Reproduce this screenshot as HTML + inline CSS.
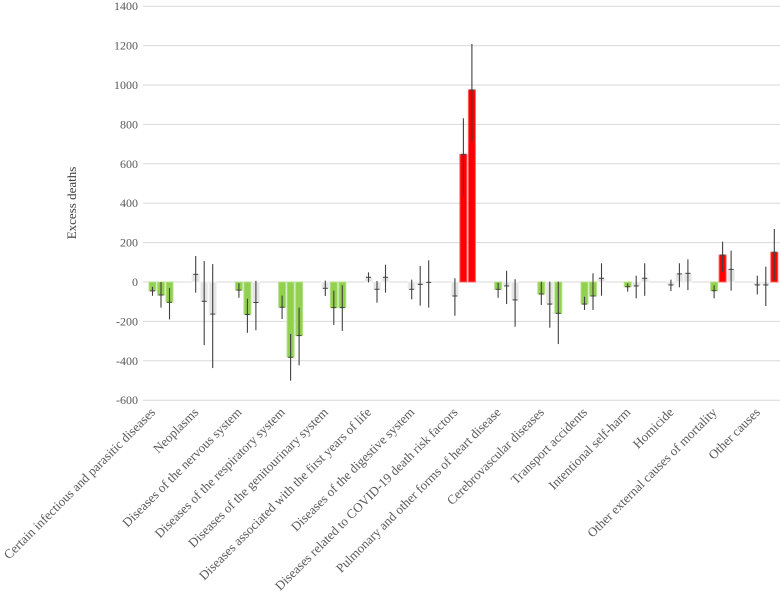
<!DOCTYPE html>
<html><head><meta charset="utf-8"><style>
html,body{margin:0;padding:0;background:#fff;}
svg, svg text{font-family:"Liberation Serif","Times New Roman",Times,serif;}
svg{display:block;}
</style></head><body>
<svg id="chart" width="780" height="600" viewBox="0 0 780 600"></svg>
<script>
const categories=["Certain infectious and parasitic diseases","Neoplasms","Diseases of the nervous system","Diseases of the respiratory system","Diseases of the genitourinary system","Diseases associated with the first years of life","Diseases of the digestive system","Diseases related to COVID-19 death risk factors","Pulmonary and other forms of heart disease","Cerebrovascular diseases","Transport accidents","Intentional self-harm","Homicide","Other external causes of mortality","Other causes"];
const values1=[-45,39,-41,-128,-32,24,-37,-71,-37,-61,-112,-24,-15,-44,-15];
const low1=[-70,-54,-80,-188,-71,-2,-88,-171,-80,-117,-142,-49,-46,-83,-63];
const high1=[-25,132,-6,-69,7,49,12,19,-3,2,-75,-7,12,-17,32];
const status1=["g","n","g","g","n","n","n","n","g","g","g","g","n","g","n"];
const values2=[-66,-98,-165,-382,-130,-37,-12,648,-20,-112,-71,-20,41,137,-15];
const low2=[-130,-320,-258,-501,-218,-105,-120,438,-112,-232,-142,-83,-27,52,-122];
const high2=[0,106,-85,-264,-44,5,81,831,57,2,44,32,95,205,78];
const status2=["g","n","g","g","g","n","n","r","n","n","g","n","n","r","n"];
const values3=[-103,-163,-104,-272,-130,24,-2,975,-91,-159,19,19,44,64,151];
const low3=[-190,-437,-245,-423,-248,-54,-130,712,-227,-315,-70,-70,-41,-44,7];
const high3=[-30,91,6,-130,-16,88,110,1208,14,2,95,95,115,159,269];
const status3=["g","n","n","g","g","n","n","r","n","g","n","n","n","n","r"];
const yTicks=[-600,-400,-200,0,200,400,600,800,1000,1200,1400];

const NS="http://www.w3.org/2000/svg";
const svg=document.getElementById('chart');
const FF='"Liberation Serif", "Times New Roman", serif';
function mk(t,a,p){const e=document.createElementNS(NS,t);for(const k in a)e.setAttribute(k,a[k]);(p||svg).appendChild(e);return e;}
const y=v=>282-v*0.197;
const x=i=>161+i*43.2;
const colors={g:"#92d050",n:"#e4e4e4",r:"#ff0000"};
const halo={g:"#b5e08a",n:"#f0f0f0",r:"#ff6060"};

const grid=mk('g',{});


yTicks.forEach(t=>{
  const l=mk('line',{x1:143,x2:780,y1:y(t),y2:y(t),stroke:"#d9d9d9","stroke-width":1},grid);
  
  
  const tx=mk('text',{x:138,y:y(t)+4,"text-anchor":"end","font-size":"12","font-family":FF,fill:"#595959"},grid);
  tx.textContent=t;
  
  
});
const yt=mk('text',{x:0,y:0,transform:"translate(76,203) rotate(-90)","text-anchor":"middle","font-size":"13","font-family":FF,fill:"#404040"});
yt.textContent="Excess deaths";



const series=[[values1,low1,high1,status1],[values2,low2,high2,status2],[values3,low3,high3,status3]];
const marks=mk('g',{});


categories.forEach((c,i)=>{
  series.forEach((s,j)=>{
    const v=s[0][i],st=s[3][i];
    const cx=x(i)+(j-1)*8.5;
    const y0=Math.min(y(0),y(v)),h=Math.abs(y(v)-y(0));
    const r=mk('rect',{x:cx-3.5,y:y0,width:7,height:Math.max(h,0.5),fill:colors[st],stroke:halo[st],"stroke-width":1},marks);
    
    
    const e=mk('line',{x1:cx,x2:cx,y1:y(s[1][i]),y2:y(s[2][i]),stroke:"#404040","stroke-width":1.1},marks);
    
    
    const m=mk('line',{x1:cx-2.5,x2:cx+2.5,y1:y(v),y2:y(v),stroke:"#404040","stroke-width":1},marks);
    
    
  });
  const lb=mk('text',{x:0,y:0,transform:`translate(${x(i)-5},${413}) rotate(-45)`,"text-anchor":"end","font-size":"13","font-family":FF,fill:"#595959"});
  lb.textContent=c;
  
  
});
</script>
</body></html>
